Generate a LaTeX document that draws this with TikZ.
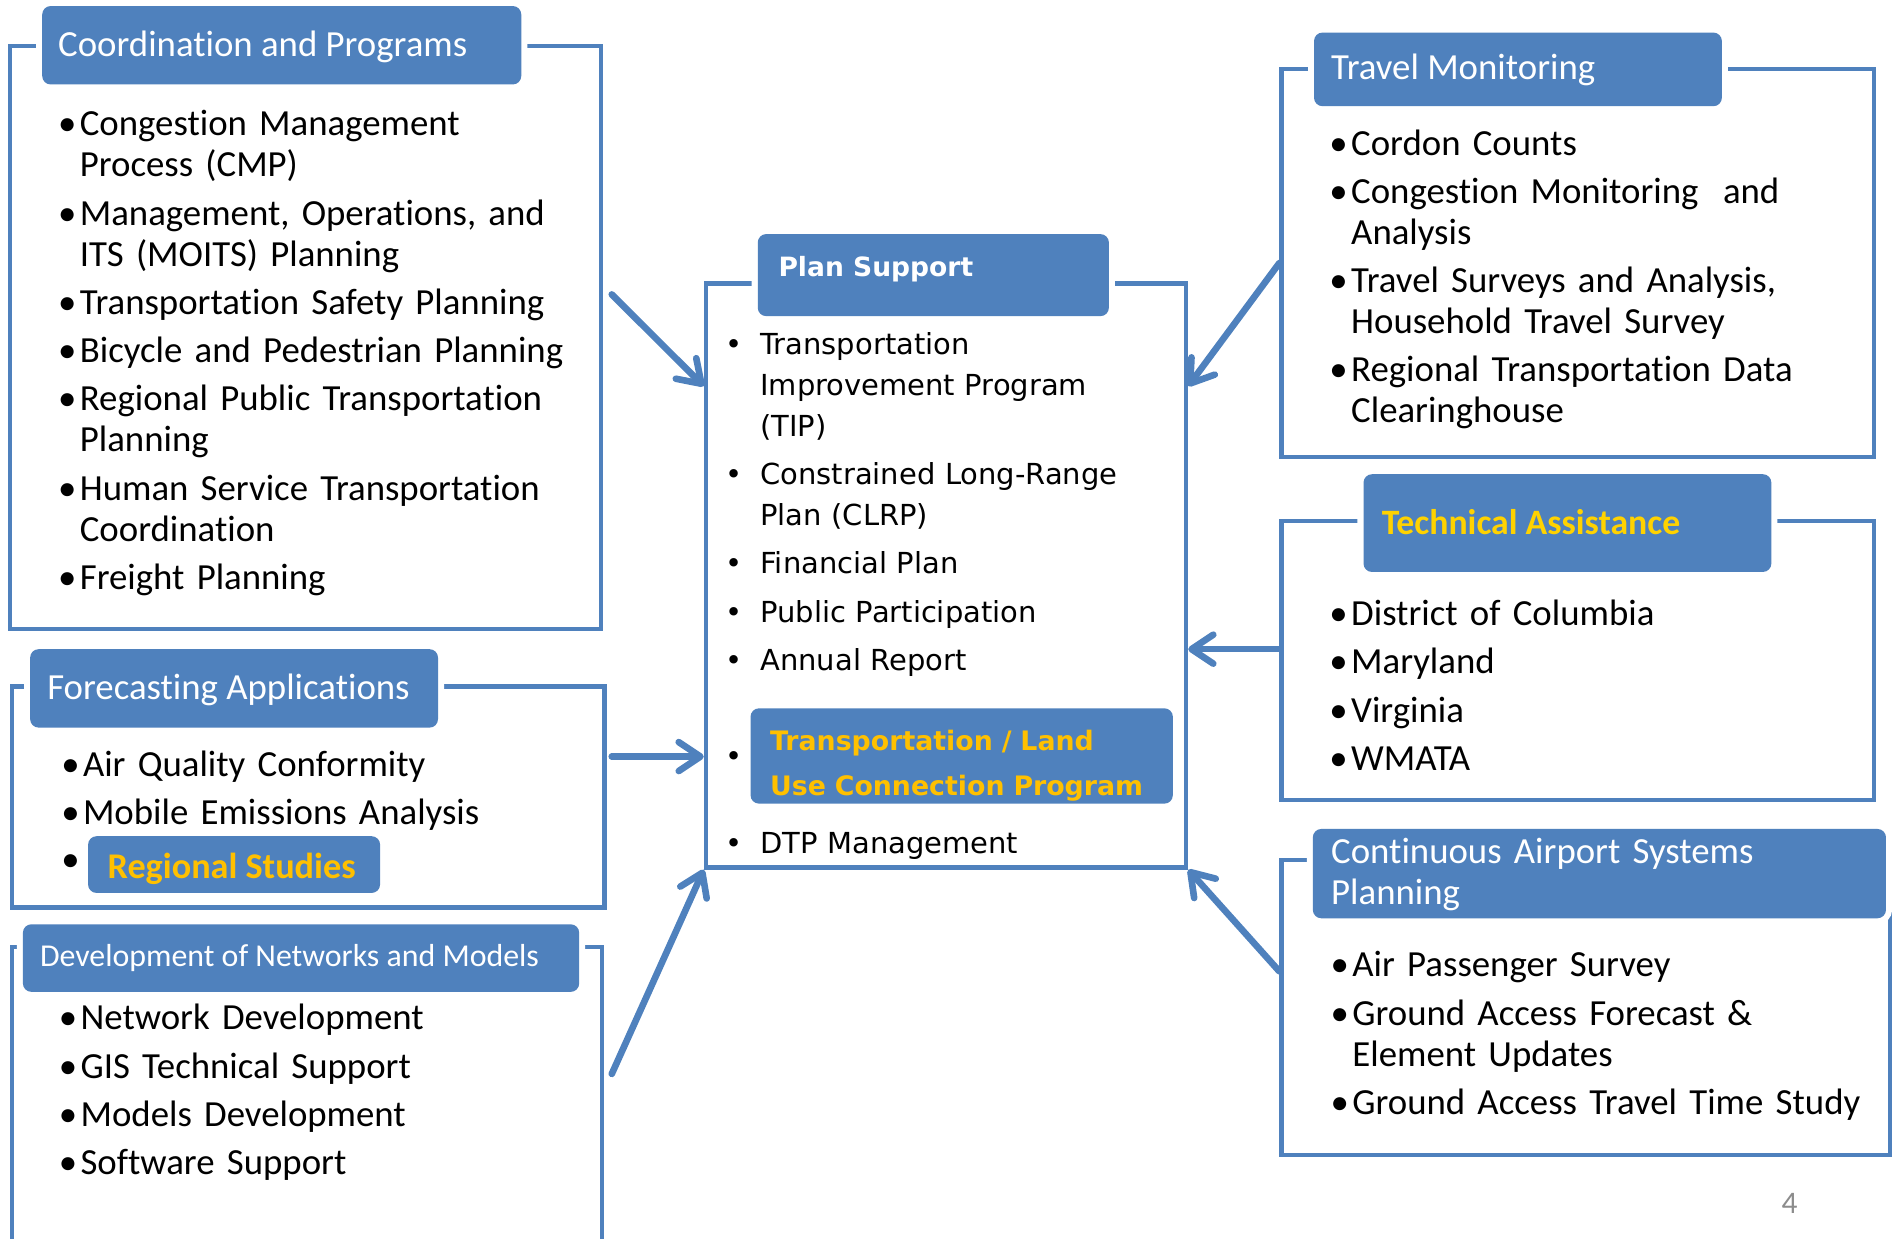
\documentclass[tikz,border=0pt]{standalone}
\usepackage{fontspec}
\setmainfont{Carlito}[Ligatures={NoCommon,NoContextual,NoRare}, Contextuals=NoAlternate]
\newfontfamily\verd{DejaVu Sans}
\usetikzlibrary{arrows.meta,fit}
\definecolor{ob}{HTML}{4F81BD}
\definecolor{og}{HTML}{FFC000}
\definecolor{ty}{HTML}{FFD200}
\definecolor{pgray}{HTML}{8C8C8C}
\newlength\bwid
\newlength\igap
\setlength\bwid{18pt}
\setlength\igap{6pt}
\newcommand\nl{\hfil\break}
\newcommand\itm[1]{\hangindent=\bwid\hangafter=1\noindent\makebox[\bwid][l]{\textbullet}#1\par\vspace{\igap}}
\begin{document}
\begin{tikzpicture}[x=1pt,y=-1pt,
  frame/.style={draw=ob, line width=3.5pt, inner sep=0pt},
  tbox/.style={fill=ob, rounded corners=7pt, inner sep=0pt, preaction={draw=white, line width=10pt}},
  hbox/.style={fill=ob, rounded corners=7pt, inner sep=0pt},
  ttl/.style={anchor=base west, inner sep=0pt, text=white, font=\fontsize{30.5}{34}\selectfont},
  lst/.style={anchor=base west, inner sep=0pt, text width=450pt, font=\fontsize{30.5}{34}\selectfont},
  pslst/.style={anchor=base west, inner sep=0pt, text width=380pt, font=\verd\fontsize{24}{34}\selectfont},
  bul/.style={anchor=base west, inner sep=0pt, font=\fontsize{30.5}{34}\selectfont},
  arr/.style={draw=ob, line width=5.5pt, line cap=round, -{Straight Barb[length=18pt,width=24pt,round]}}
]
\useasboundingbox (0,0) rectangle (1568,1026);

% Coordination and Programs
\node[frame, fit={(8,38)(498,521)}] (cpf) {};
\node[tbox, fit={(35,5)(432,70)}] (cpt) {};
\node[ttl] (cptx) at (48,47) {Coordination and Programs};
\node[lst] (cpl) at (48,112.5) {\itm{Congestion Management\nl Process (CMP)}\itm{Management, Operations, and\nl ITS (MOITS) Planning}\itm{Transportation Safety Planning}\itm{Bicycle and Pedestrian Planning}\itm{Regional Public Transportation\nl Planning}\itm{Human Service Transportation\nl Coordination}\itm{Freight Planning}};

% Forecasting Applications
\node[frame, fit={(10,569)(501,752)}] (faf) {};
\node[tbox, fit={(25,538)(363,603)}] (fat) {};
\node[ttl] (fatx) at (39,580) {Forecasting Applications};
\node[lst] (fal) at (50.6,643.5) {\itm{Air Quality Conformity}\itm{Mobile Emissions Analysis}};
\node[bul] (fab) at (50.6,722) {\textbullet};
\node[hbox, fit={(73,693)(315,740)}] (rs) {};
\node[ttl, text=og, font=\bfseries\fontsize{30}{34}\selectfont] (rstx) at (89,728) {Regional Studies};

% Development of Networks and Models
\node[frame, fit={(10,785)(499,1045)}] (dnf) {};
\node[tbox, fit={(19,766)(480,822)}] (dnt) {};
\node[ttl, font=\fontsize{26.4}{30}\selectfont] (dntx) at (33,801) {Development of Networks and Models};
\node[lst] (dnl) at (48.6,853.5) {\itm{Network Development}\itm{GIS Technical Support}\itm{Models Development}\itm{Software Support}};

% Plan Support
\node[frame, fit={(585,235)(983,719)}] (psf) {};
\node[tbox, fit={(628,194)(919,262)}] (pst) {};
\node[ttl, font=\verd\bfseries\fontsize{22}{26}\selectfont] (pstx) at (645,229) {Plan Support};
\node[pslst] (psl) at (601,293.5) {\setlength\bwid{29pt}\itm{Transportation\nl Improvement Program\nl (TIP)}\itm{Constrained Long-Range\nl Plan (CLRP)}\itm{Financial Plan}\itm{Public Participation}\itm{Annual Report}};
\node[bul, font=\verd\fontsize{24}{34}\selectfont] (psb) at (601,635) {\textbullet};
\node[hbox, fit={(622,587)(972,666)}] (tlu) {};
\node[ttl, text=og, text width=340pt, font=\verd\bfseries\fontsize{22.2}{37}\selectfont] (tlutx) at (638,622) {Transportation / Land\\Use Connection Program};
\node[pslst] (psl2) at (601,707.5) {\setlength\bwid{29pt}\itm{DTP Management}};

% Travel Monitoring
\node[frame, fit={(1062,57)(1553,379)}] (tmf) {};
\node[tbox, fit={(1089,27)(1427,88)}] (tmt) {};
\node[ttl] (tmtx) at (1103,66) {Travel Monitoring};
\node[lst] (tml) at (1101.6,128.5) {\itm{Cordon Counts}\itm{Congestion Monitoring\ \ and\nl Analysis}\itm{Travel Surveys and Analysis,\nl Household Travel Survey}\itm{Regional Transportation Data\nl Clearinghouse}};

% Technical Assistance
\node[frame, fit={(1062,432)(1553,663)}] (taf) {};
\node[tbox, fit={(1130,393)(1468,474)}] (tat) {};
\node[ttl, text=ty, font=\bfseries\fontsize{29.6}{34}\selectfont] (tatx) at (1145,443) {Technical Assistance};
\node[lst] (tal) at (1101.6,518.5) {\itm{District of Columbia}\itm{Maryland}\itm{Virginia}\itm{WMATA}};

% Continuous Airport Systems Planning
\node[frame, fit={(1062,713)(1566,957)}] (caf) {};
\node[tbox, fit={(1088,687)(1563,761)}] (cat) {};
\node[ttl, text width=450pt] (catx) at (1103,716) {Continuous Airport Systems\\Planning};
\node[lst] (cal) at (1102.6,809.5) {\itm{Air Passenger Survey}\itm{Ground Access Forecast \&\nl Element Updates}\itm{Ground Access Travel Time Study}};

% page number
\node[text=pgray, font=\fontsize{26}{30}\selectfont, inner sep=0pt] (pg) at (1483,997) {4};

% arrows
\coordinate (s1) at (507,244);
\coordinate (y1) at (0,320);
\coordinate (s2) at (507,627);
\coordinate (s3) at (507,890);
\coordinate (y4) at (0,218);
\coordinate (y5) at (0,538);
\coordinate (y6) at (0,805);
\draw[arr] (s1) -- (psf.west |- y1);
\draw[arr] (s2) -- (psf.west |- s2);
\draw[arr] (s3) -- (psf.south west);
\draw[arr] (tmf.west |- y4) -- (psf.east |- y1);
\draw[arr] (taf.west |- y5) -- (psf.east |- y5);
\draw[arr] (caf.west |- y6) -- (psf.south east);
\end{tikzpicture}
\end{document}
